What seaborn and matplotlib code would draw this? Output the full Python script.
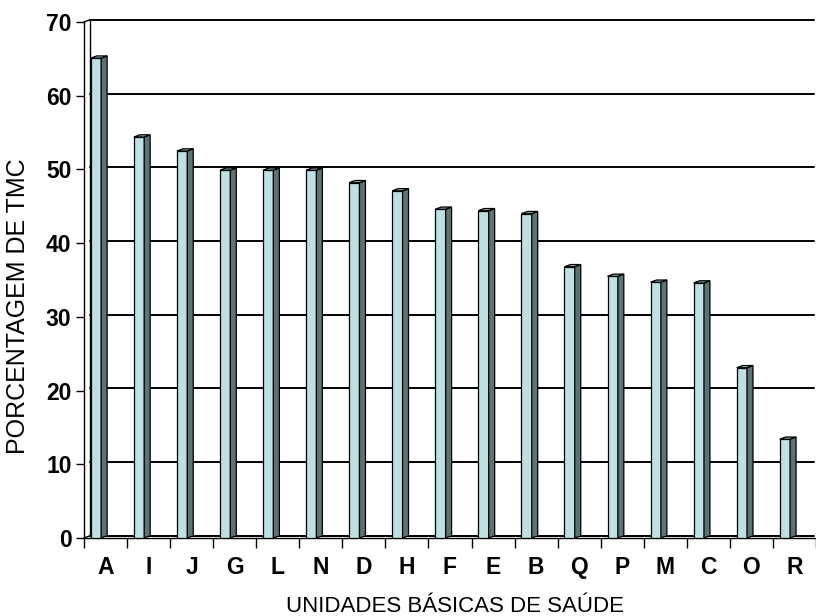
import numpy as np
import matplotlib
matplotlib.use('Agg')
import matplotlib.pyplot as plt
from matplotlib.patches import Polygon
import seaborn as sns

# values
unidades = ['A', 'I', 'J', 'G', 'L', 'N', 'D', 'H', 'F', 'E', 'B', 'Q', 'P', 'M', 'C', 'O', 'R']
tmc = [65.1, 54.4, 52.5, 49.9, 49.9, 49.9, 48.2, 47.1, 44.6, 44.4, 44.0, 36.8, 35.5, 34.7, 34.6, 23.1, 13.4]
y_ticks = [0, 10, 20, 30, 40, 50, 60, 70]

front = '#bde0e3'
side = '#5e7173'
top = '#8fb6b8'

sns.set_style('white')
plt.rcParams['font.family'] = ['Liberation Sans', 'DejaVu Sans']
plt.rcParams['text.color'] = 'black'
plt.rcParams['xtick.color'] = 'black'
plt.rcParams['ytick.color'] = 'black'

W, H = 816, 616
fig = plt.figure(figsize=(W / 100, H / 100), dpi=100)
left_px, top_px, bot_px = 84, 22, 538
slot = 43.2
ax = fig.add_axes([left_px / W, (H - bot_px) / H, (W - left_px) / W, (bot_px - top_px) / H])

sns.barplot(x=unidades, y=tmc, color=front, saturation=1, width=0.24,
            edgecolor='black', linewidth=0.9, ax=ax, zorder=3)

xmax = -0.5 + (W - left_px) / slot
ax.set_xlim(-0.5, xmax)
ax.set_ylim(0, 70)

# 3d offset of the back wall (pixels -> data)
ppy = (bot_px - top_px) / 70.0
dx = 6 / slot
dy = 2.2 / ppy

# gridlines on the back wall
for v in y_ticks:
    ax.plot([-0.5 + dx, xmax], [v + dy, v + dy], color='black', lw=1.4, zorder=1, clip_on=False)
ax.plot([-0.5 + dx, -0.5 + dx], [dy, 70 + dy], color='black', lw=1.0, zorder=1, clip_on=False)
ax.plot([-0.5, -0.5 + dx], [70, 70 + dy], color='black', lw=1.0, zorder=1, clip_on=False)
ax.plot([-0.5, -0.5 + dx], [0, dy], color='black', lw=1.0, zorder=1, clip_on=False)

# shift bars left inside each slot and add side / top faces
shift = 0.222
for p in ax.patches:
    p.set_x(p.get_x() - shift)
    x0 = p.get_x()
    x1 = x0 + p.get_width()
    h = p.get_height()
    ax.add_patch(Polygon([(x1, 0), (x1 + dx, dy), (x1 + dx, h + dy), (x1, h)],
                         closed=True, facecolor=side, edgecolor='black', lw=0.9, zorder=3))
    ax.add_patch(Polygon([(x0, h), (x1, h), (x1 + dx, h + dy), (x0 + dx, h + dy)],
                         closed=True, facecolor=top, edgecolor='black', lw=0.9, zorder=3))

for s in ['top', 'right']:
    ax.spines[s].set_visible(False)
for s in ['left', 'bottom']:
    ax.spines[s].set_color('black')
    ax.spines[s].set_linewidth(1.0)

ax.set_yticks(y_ticks)
ax.set_yticklabels([str(v) for v in y_ticks], fontsize=16.5, fontweight='bold', color='black')
ax.tick_params(axis='y', length=6, width=1, color='black', pad=3, direction='out', left=True)

ax.set_xticks(np.arange(-0.5, len(unidades), 1))
ax.set_xticklabels([])
ax.set_xticks(np.arange(len(unidades)), minor=True)
ax.set_xticklabels(unidades, minor=True, fontsize=16.5, fontweight='bold', color='black')
ax.tick_params(axis='x', which='major', length=7, width=1, color='black', direction='out', bottom=True)
ax.tick_params(axis='x', which='minor', length=0, pad=13, bottom=True)
ax.grid(False)
ax.set_xlabel('')
ax.set_ylabel('')

fig.text(455 / W, 1 - 606 / H, 'UNIDADES BÁSICAS DE SAÚDE', fontsize=16,
         ha='center', va='center', color='black')
fig.text(18 / W, 1 - 306 / H, 'PORCENTAGEM DE TMC', fontsize=18, rotation=90,
         ha='center', va='center', color='black')

fig.savefig('out.png', dpi=100)
